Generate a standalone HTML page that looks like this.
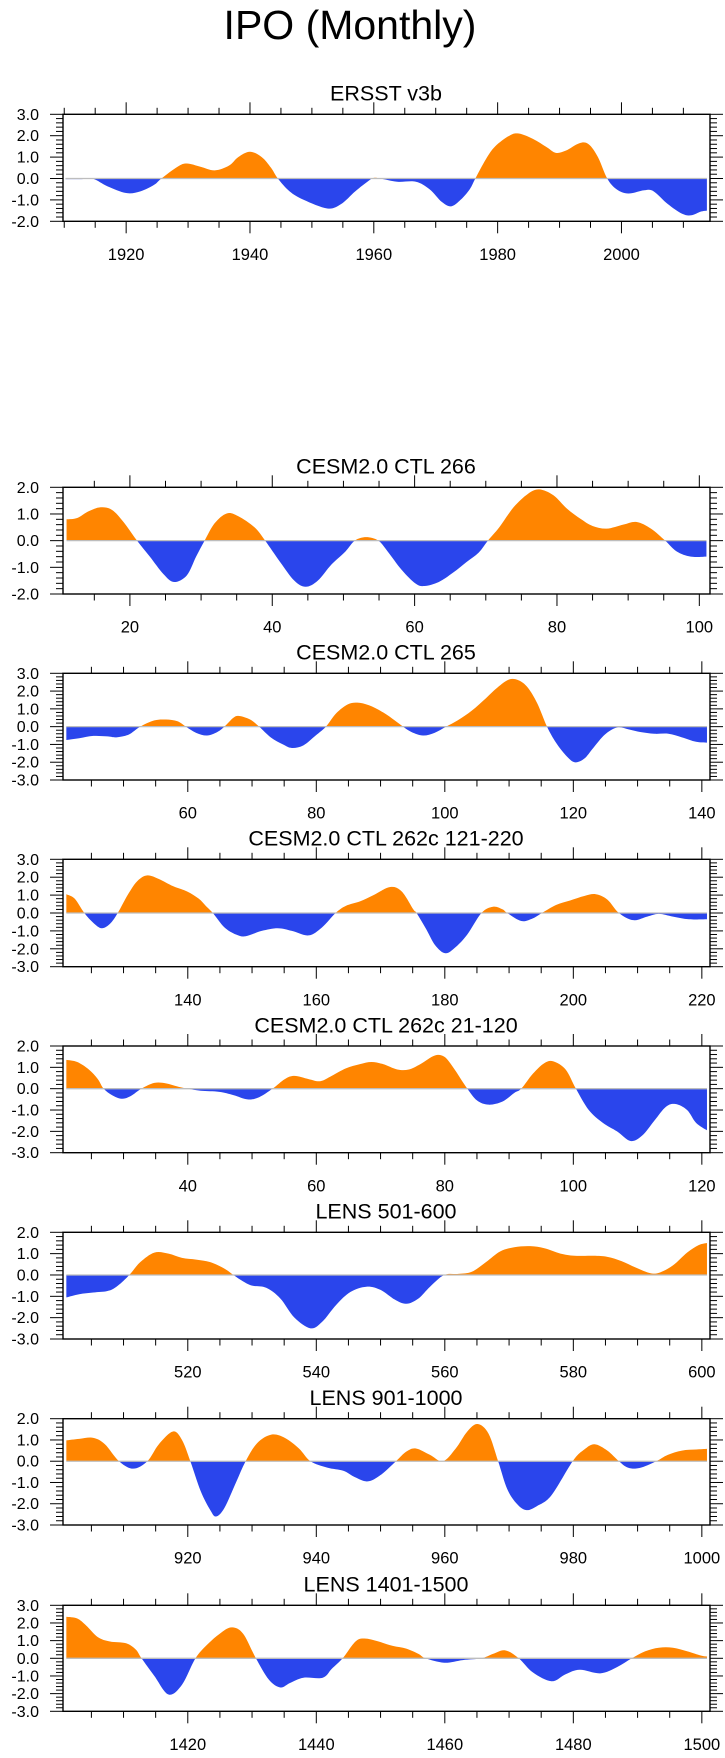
<!DOCTYPE html>
<html><head><meta charset="utf-8"><style>
html,body{margin:0;padding:0;background:#fff;}
svg{display:block;font-family:"Liberation Sans",Arial,sans-serif;}
</style></head><body>
<svg id="chart" width="725" height="1758" viewBox="0 0 725 1758">
<text x="350" y="39" font-size="41" text-anchor="middle">IPO (Monthly)</text>
</svg>
<script>
// ---- data (time, value) ----
const ersstTime = [1910.2,1912.8,1914.7,1917,1920,1922.3,1924.5,1925.7,1928.3,1929.8,1932,1934.3,1936.6,1938.1,1940,1941.9,1943.4,1944.5,1946.4,1948.7,1952.5,1954.7,1957,1959.2,1960,1961.1,1963.8,1966.8,1969,1971,1972.5,1974,1975.5,1976.4,1978.1,1979.6,1981.9,1983.4,1985.7,1988,1989.4,1991,1993.2,1994.7,1996.2,1997.7,1999.2,2001.1,2003.7,2005.2,2007.5,2009.8,2011.3,2012.8,2013.8];
const ersstValues = [-0.03,-0.03,-0.02,-0.37,-0.68,-0.6,-0.3,0,0.55,0.7,0.55,0.38,0.6,1.0,1.25,1.0,0.5,0,-0.6,-1.0,-1.4,-1.2,-0.6,-0.1,0.03,0,-0.15,-0.15,-0.5,-1.1,-1.3,-1.0,-0.5,0,0.9,1.5,2.0,2.1,1.85,1.45,1.2,1.3,1.65,1.6,1.0,0,-0.5,-0.7,-0.55,-0.6,-1.2,-1.65,-1.72,-1.55,-1.5];

const ctl266Time = [11.1,12.6,14.2,15.9,17.5,19.1,21,22.8,24.7,26.2,28,29.3,30.5,31.9,33.6,35.2,37.5,39,41.1,43.1,44.7,46.4,48.3,50.3,51.6,53.2,54.9,56.2,58.2,60.1,61.4,63.4,65.4,67.3,69,70.3,71.9,73.9,75.9,77.5,79.5,81.4,83.4,85,87,89.3,91.2,93.2,95.2,96.8,98.8,101];
const ctl266Values = [0.8,0.85,1.1,1.25,1.15,0.7,0,-0.6,-1.25,-1.55,-1.3,-0.6,0,0.65,1.02,0.92,0.5,0,-0.8,-1.5,-1.73,-1.5,-0.9,-0.4,0,0.13,0,-0.4,-1.1,-1.6,-1.7,-1.55,-1.2,-0.8,-0.45,0,0.5,1.25,1.75,1.92,1.7,1.2,0.8,0.55,0.45,0.6,0.7,0.45,0,-0.4,-0.6,-0.6];

const ctl265Time = [41.1,43.1,45.3,47.5,48.9,50.8,52.6,54.8,56.6,58.4,59.7,61.3,63,64.6,65.7,67.1,68,69.7,71.1,72.9,74.8,76.2,78,79.9,81.5,83.1,84.9,86.4,88.2,90.4,92.2,93.5,94.8,96.6,98.4,100.2,102,104.2,106.4,108.2,110,111.5,112.9,114.4,115.9,117.3,118.8,120.2,121.7,123.1,124.9,126.8,128.6,130.4,132.6,134.8,136.9,139.1,140.8];
const ctl265Values = [-0.75,-0.65,-0.52,-0.55,-0.6,-0.45,0,0.35,0.4,0.3,0,-0.35,-0.5,-0.3,0,0.5,0.6,0.4,0,-0.6,-1.0,-1.2,-1.05,-0.5,0,0.75,1.25,1.35,1.2,0.8,0.35,0,-0.3,-0.5,-0.35,0,0.35,0.9,1.6,2.2,2.65,2.6,2.2,1.3,0,-0.9,-1.6,-2.0,-1.8,-1.2,-0.45,-0.05,-0.15,-0.3,-0.4,-0.4,-0.6,-0.85,-0.9];

const ctl262aTime = [121.1,122.4,123.9,125.3,126.6,127.9,129.1,130.8,132.2,133.7,135.5,137.7,139.9,141.7,142.8,143.9,145.7,147.5,149,151.5,154,156.2,158.8,160.9,163,164.6,166.8,168.9,171.5,173.3,175.1,175.6,177.1,178.5,180.1,181.7,183.5,185.7,187.5,189,189.7,191.9,193.7,195.1,197.3,199.5,201.7,203.5,205.3,207.1,209.3,211.5,213.3,215.5,218,220.8];
const ctl262aValues = [1.05,0.8,0,-0.55,-0.85,-0.6,0,1.1,1.8,2.1,1.9,1.5,1.2,0.8,0.4,0,-0.8,-1.2,-1.3,-1.0,-0.85,-1.0,-1.25,-0.8,0,0.4,0.65,1.0,1.45,1.2,0.2,0,-0.9,-1.8,-2.25,-1.9,-1.2,0,0.35,0.2,0,-0.45,-0.3,0,0.45,0.7,0.95,1.05,0.75,0,-0.4,-0.2,-0.05,-0.2,-0.35,-0.35];

const ctl262bTime = [21.1,22.8,24.6,26,26.9,28.2,29.7,31.1,32.8,34.8,36.6,38.4,39.9,42,44.9,47.1,49.3,51.1,53.2,55.1,56.6,58.8,60.6,62.4,64.6,66.8,68.6,70.4,72.6,74.4,76.2,78.4,79.9,81.3,83.5,85,86.8,89,90.8,91.9,93.7,95.5,96.9,98.8,100.4,102.4,104.6,106.8,108.9,110.7,112.6,114.4,115.9,117.7,119.1,120.8];
const ctl262bValues = [1.35,1.25,0.9,0.45,0,-0.3,-0.47,-0.35,0,0.27,0.25,0.1,0,-0.1,-0.15,-0.3,-0.5,-0.4,0,0.45,0.6,0.45,0.35,0.6,0.95,1.15,1.25,1.15,0.9,0.9,1.15,1.55,1.5,1.0,0,-0.55,-0.75,-0.6,-0.2,0,0.7,1.2,1.28,0.9,0,-1.0,-1.6,-2.0,-2.45,-2.2,-1.5,-0.85,-0.72,-1.0,-1.6,-1.95];

const lens501Time = [501.1,503.1,505.3,507.5,508.9,510.9,512.6,514.8,517,519.1,521.3,523.5,525.7,527.1,528.6,530,532.2,534.4,536.6,539.1,540.9,543.1,545.3,547.8,550,552.2,554,555.9,557.7,559.9,562.1,564.2,566.4,568.6,570.8,573.3,575.5,578,580.2,583.1,585.3,587.5,589.7,591.8,593.3,595.5,597.7,599.5,600.8];
const lens501Values = [-1.05,-0.9,-0.82,-0.75,-0.55,0,0.6,1.05,1.0,0.8,0.72,0.6,0.3,0,-0.3,-0.5,-0.6,-1.1,-2.0,-2.5,-2.2,-1.4,-0.8,-0.55,-0.7,-1.15,-1.35,-1.1,-0.55,0,0.05,0.15,0.6,1.1,1.3,1.35,1.25,1.0,0.9,0.9,0.85,0.65,0.35,0.1,0.1,0.45,1.05,1.4,1.5];

const lens901Time = [901.1,903.1,905.3,907.1,909.3,911.5,913.7,915.5,917.7,919.1,920.4,922,923.5,924.4,925.7,927.5,929,930.8,933,935.1,937.3,939.1,941.7,944.2,946,948,950,952.4,954,955.5,957.7,959.7,961.7,963.5,965.1,966.8,968.3,969.7,971.2,972.7,974.4,976.6,979.9,981.7,983.3,985.3,987.1,988.5,990.3,992.9,994.7,996.9,999.1,1000.8];
const lens901Values = [0.98,1.05,1.1,0.8,0,-0.35,0,0.8,1.4,1.0,0,-1.4,-2.3,-2.6,-2.2,-1.0,0,0.85,1.25,1.1,0.6,0,-0.3,-0.45,-0.75,-0.95,-0.65,0,0.45,0.6,0.3,0,0.6,1.4,1.75,1.3,0,-1.3,-2.0,-2.3,-2.1,-1.6,0,0.55,0.8,0.5,0,-0.3,-0.32,0,0.3,0.5,0.55,0.58];

const lens1401Time = [1401.1,1402.8,1404.2,1406,1407.9,1410.4,1411.9,1412.8,1414.8,1417,1419.1,1421.2,1423.1,1425,1426.8,1428.6,1430.6,1432.6,1434.4,1435.9,1438,1441,1442.4,1444.1,1446.1,1447.5,1449.7,1451.9,1454,1455.9,1457,1459.9,1462.8,1465.7,1467.5,1469.4,1471.5,1473.7,1476.6,1478.8,1481,1484.2,1486.8,1489.1,1491.2,1493.3,1495.5,1497.7,1499.9,1500.8];
const lens1401Values = [2.35,2.25,1.85,1.2,0.95,0.85,0.5,0,-1.0,-2.05,-1.5,0,0.8,1.4,1.75,1.4,0,-1.2,-1.65,-1.4,-1.1,-1.1,-0.6,0,0.95,1.12,0.95,0.7,0.55,0.25,0,-0.25,-0.1,0,0.25,0.45,0,-0.8,-1.3,-0.9,-0.65,-0.85,-0.5,0,0.4,0.6,0.6,0.4,0.15,0.1];

const panelTitles = ["ERSST v3b","CESM2.0 CTL 266","CESM2.0 CTL 265","CESM2.0 CTL 262c 121-220","CESM2.0 CTL 262c 21-120","LENS 501-600","LENS 901-1000","LENS 1401-1500"];
const yMins = [-2,-2,-3,-3,-3,-3,-3,-3];
const yMaxs = [3,2,3,3,2,2,2,3];
const xMins = [1909.8,10.6,40.58,120.58,20.58,500.58,900.58,1400.58];
const xMaxs = [2014.3,101.5,141.27,221.27,121.27,601.27,1001.27,1501.27];

const seriesT = [ersstTime,ctl266Time,ctl265Time,ctl262aTime,ctl262bTime,lens501Time,lens901Time,lens1401Time];
const seriesV = [ersstValues,ctl266Values,ctl265Values,ctl262aValues,ctl262bValues,lens501Values,lens901Values,lens1401Values];

// ---- layout ----
const tops = [114.3,487.3,673.3,859.3,1046,1232.3,1418.7,1605.3];
const bottoms = [221.3,594,780,966.7,1152.7,1339,1525,1711.3];
const LEFT = 63, RIGHT = 710;
const NS = "http://www.w3.org/2000/svg";
const svg = document.getElementById('chart');
function mk(tag, attrs, parent){
  const e = document.createElementNS(NS, tag);
  for (const k in attrs) e.setAttribute(k, attrs[k]);
  (parent||svg).appendChild(e);
  return e;
}
function smoothPath(pts){
  let d = "M" + pts[0][0].toFixed(2) + "," + pts[0][1].toFixed(2);
  for (let i=0;i<pts.length-1;i++){
    const p0 = pts[i-1]||pts[i], p1 = pts[i], p2 = pts[i+1], p3 = pts[i+2]||p2;
    const c1x = p1[0] + (p2[0]-p0[0])/6, c1y = p1[1] + (p2[1]-p0[1])/6;
    const c2x = p2[0] - (p3[0]-p1[0])/6, c2y = p2[1] - (p3[1]-p1[1])/6;
    d += " C" + c1x.toFixed(2)+","+c1y.toFixed(2)+" "+c2x.toFixed(2)+","+c2y.toFixed(2)+" "+p2[0].toFixed(2)+","+p2[1].toFixed(2);
  }
  return d;
}
const defs = mk('defs', {});

for (let p=0;p<8;p++){
  const top = tops[p], bot = bottoms[p];
  const xmin = xMins[p], xmax = xMaxs[p], ymin = yMins[p], ymax = yMaxs[p];
  const xs = t => LEFT + (t - xmin) / (xmax - xmin) * (RIGHT - LEFT);
  const ys = v => bot - (v - ymin) / (ymax - ymin) * (bot - top);
  const g = mk('g', {});
  
  

  const title = mk('text', {x: 386, y: top - 13.6, 'font-size': 21.5, 'text-anchor': 'middle'}, g);
  title.textContent = panelTitles[p];
  
  

  const y0 = ys(0);
  const cpA = mk('clipPath', {id: 'pos'+p}, defs);
  mk('rect', {x: LEFT, y: top, width: RIGHT-LEFT, height: y0-top}, cpA);
  const cpB = mk('clipPath', {id: 'neg'+p}, defs);
  mk('rect', {x: LEFT, y: y0, width: RIGHT-LEFT, height: bot-y0}, cpB);

  const T = seriesT[p], V = seriesV[p];
  const pts = T.map((t,i)=>[xs(t), ys(V[i])]);
  const d = smoothPath(pts) + " L" + pts[pts.length-1][0].toFixed(2) + "," + y0.toFixed(2) + " L" + pts[0][0].toFixed(2) + "," + y0.toFixed(2) + " Z";
  const pos = mk('path', {d: d, fill: '#FF8500', 'clip-path': 'url(#pos'+p+')'}, g);
  
  
  const neg = mk('path', {d: d, fill: '#2A45EC', 'clip-path': 'url(#neg'+p+')'}, g);
  
  

  const zl = mk('line', {x1: pts[0][0], x2: pts[pts.length-1][0], y1: y0, y2: y0, stroke: '#bdbdbd', 'stroke-width': 1.3}, g);
  
  

  const box = mk('rect', {x: LEFT, y: top, width: RIGHT-LEFT, height: bot-top, fill: 'none', stroke: '#000', 'stroke-width': 1.4}, g);
  
  

  // x ticks
  const xa = mk('g', {stroke: '#000', 'stroke-width': 1}, g);
  
  
  for (let t = Math.ceil(xmin/5)*5; t <= xmax; t += 5){
    const major = (t % 20 === 0);
    const L = major ? 12 : 6.5;
    const x = xs(t);
    mk('line', {x1: x, x2: x, y1: top, y2: top - L}, xa);
    mk('line', {x1: x, x2: x, y1: bot, y2: bot + L}, xa);
    if (major){
      const lb = mk('text', {x: x, y: bot + 38.7, 'font-size': 16.5, 'text-anchor': 'middle', stroke: 'none'}, g);
      lb.textContent = t;
      
      
    }
  }
  // y ticks
  const ya = mk('g', {stroke: '#000', 'stroke-width': 1}, g);
  
  
  for (let k = Math.round(ymin*5); k <= Math.round(ymax*5); k++){
    const v = k/5, major = (k % 5 === 0);
    const L = major ? 13 : 7;
    const y = ys(v);
    mk('line', {x1: LEFT, x2: LEFT - L, y1: y, y2: y}, ya);
    mk('line', {x1: RIGHT, x2: RIGHT + L, y1: y, y2: y}, ya);
    if (major){
      const lb = mk('text', {x: 39, y: y + 5.5, 'font-size': 16, 'text-anchor': 'end'}, g);
      lb.textContent = v.toFixed(1);
      
      
    }
  }
}
</script>
</body></html>
